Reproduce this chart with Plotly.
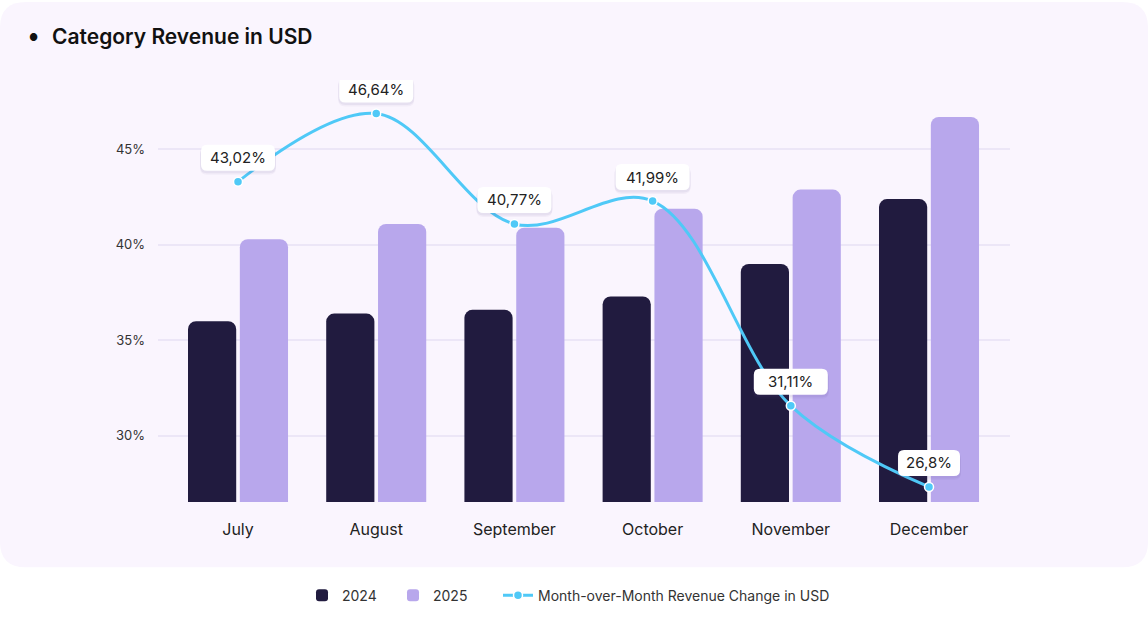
import plotly.graph_objects as go

# data
months = ["July", "August", "September", "October", "November", "December"]
rev_2024 = [36.0, 36.4, 36.6, 37.3, 39.0, 42.4]
rev_2025 = [40.3, 41.1, 40.9, 41.9, 42.9, 46.7]
mom_change = [43.02, 46.64, 40.77, 41.99, 31.11, 26.8]
y_ticks = [30, 35, 40, 45]

W, H = 1148, 623
L, R, T, B = 158, 138, 80, 110
PW, PH = W - L - R, H - T - B


def xp(px):
    return (px - L) / PW


def yp(py):
    return (H - B - py) / PH


def rrect(x0, y0, x1, y1, r):
    # rounded rectangle path, y pointing up
    return (f"M {x0+r},{y0} L {x1-r},{y0} Q {x1},{y0} {x1},{y0+r} "
            f"L {x1},{y1-r} Q {x1},{y1} {x1-r},{y1} L {x0+r},{y1} "
            f"Q {x0},{y1} {x0},{y1-r} L {x0},{y0+r} Q {x0},{y0} {x0+r},{y0} Z")


fig = go.Figure()

fig.add_trace(go.Bar(x=months, y=rev_2024, name="2024", marker_color="#211B3F",
                     marker_line_width=0, legend="legend"))
fig.add_trace(go.Bar(x=months, y=rev_2025, name="2025", marker_color="#B8A7EC",
                     marker_line_width=0, legend="legend2"))
fig.add_trace(go.Scatter(x=months, y=mom_change, name="Month-over-Month Revenue Change in USD",
                         yaxis="y2", mode="lines+markers", legend="legend3",
                         line=dict(color="#4FC9F7", width=3, shape="spline", smoothing=1.0),
                         marker=dict(size=9, color="#4FC9F7", line=dict(color="white", width=1.5))))

# card background with rounded corners (paper coords)
cx0, cx1, cy0, cy1, r = xp(0), xp(W), yp(580), yp(0), 26
rx, ry = r / PW, r / PH
card = (f"M {cx0+rx},{cy0} L {cx1-rx},{cy0} Q {cx1},{cy0} {cx1},{cy0+ry} "
        f"L {cx1},{cy1-ry} Q {cx1},{cy1} {cx1-rx},{cy1} L {cx0+rx},{cy1} "
        f"Q {cx0},{cy1} {cx0},{cy1-ry} L {cx0},{cy0+ry} Q {cx0},{cy0} {cx0+rx},{cy0} Z")
fig.add_shape(type="path", path=card, xref="paper", yref="paper",
              fillcolor="#FAF5FE", line_width=0, layer="below")

annotations = []
for m, v in zip(months, mom_change):
    label = ("%g" % v).replace(".", ",") + "%"
    bw = 74 if len(label) > 5 else 62
    # soft shadow + white rounded label box, sized in pixels around the point
    for dy, col in [(-3, "rgba(90,70,140,0.05)"), (-1.5, "rgba(90,70,140,0.07)")]:
        fig.add_shape(type="path", xref="x", yref="y2", xsizemode="pixel", ysizemode="pixel",
                      xanchor=m, yanchor=v,
                      path=rrect(-bw / 2 - 1, 10 + dy, bw / 2 + 1, 37 + dy, 7),
                      fillcolor=col, line_width=0)
    fig.add_shape(type="path", xref="x", yref="y2", xsizemode="pixel", ysizemode="pixel",
                  xanchor=m, yanchor=v, path=rrect(-bw / 2, 11, bw / 2, 37, 6),
                  fillcolor="white", line_width=0)
    annotations.append(dict(x=m, y=v, xref="x", yref="y2", yshift=24, showarrow=False,
                            text=label, font=dict(size=15, color="#222222")))
annotations.append(dict(x=xp(50), y=yp(35), xref="paper", yref="paper", showarrow=False,
                        xanchor="left", yanchor="middle",
                        text="Category Revenue in USD",
                        font=dict(size=21, color="#111111", weight=600)))
annotations.append(dict(x=xp(33), y=yp(36), xref="paper", yref="paper", showarrow=False,
                        xanchor="center", yanchor="middle", text="●",
                        font=dict(size=10, color="#111111")))

leg = dict(orientation="h", xanchor="left", y=yp(609), yanchor="middle",
           font=dict(size=14, color="#333333"), bgcolor="rgba(0,0,0,0)")

fig.update_layout(
    width=W, height=H,
    margin=dict(l=L, r=R, t=T, b=B),
    paper_bgcolor="white",
    plot_bgcolor="rgba(0,0,0,0)",
    font=dict(family="Inter, Lato, sans-serif", color="#222222"),
    barmode="group", bargap=0.25, bargroupgap=0.07, barcornerradius=8,
    showlegend=True,
    legend=dict(leg, x=xp(302)),
    legend2=dict(leg, x=xp(393)),
    legend3=dict(leg, x=xp(498)),
    xaxis=dict(range=[-0.579, 5.586], showgrid=False, zeroline=False, showline=False,
               ticks="", ticklabelstandoff=16, tickfont=dict(size=16, color="#222222")),
    yaxis=dict(range=[26.53, 48.64], tickvals=y_ticks, ticktext=[f"{t}%" for t in y_ticks],
               showgrid=True, gridcolor="#ECE6F7", gridwidth=1.5, zeroline=False,
               showline=False, ticklabelstandoff=12, tickfont=dict(size=13, color="#333333")),
    yaxis2=dict(range=[26.0, 48.42], overlaying="y", side="right", visible=False,
                showgrid=False, zeroline=False),
    annotations=annotations,
)

fig.write_html("out.html", config={"displayModeBar": False},
               post_script="document.body.style.margin='0';")
